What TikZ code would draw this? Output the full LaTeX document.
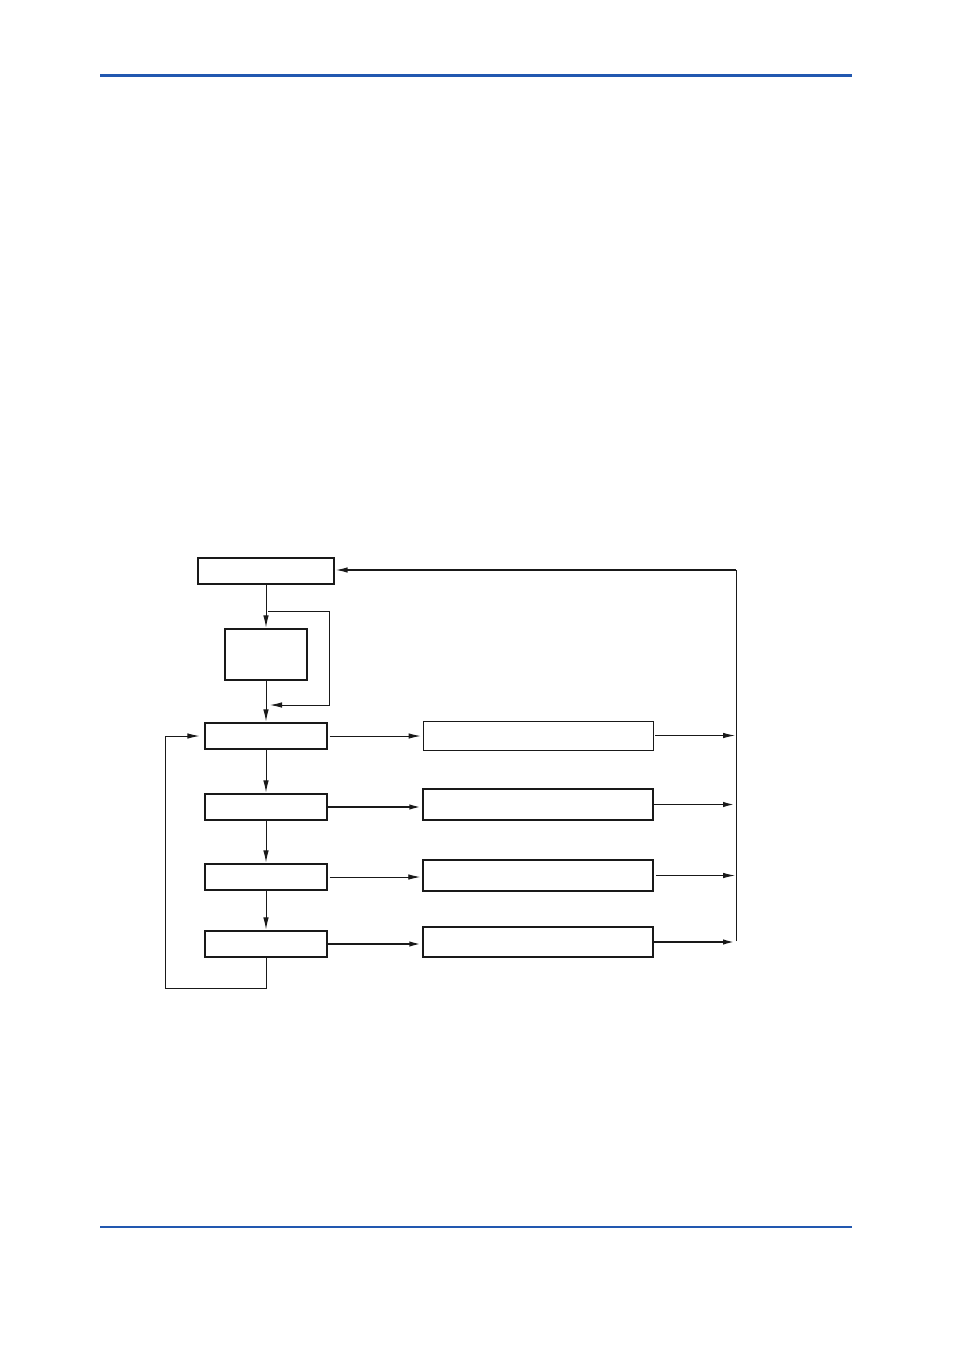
\documentclass[tikz,border=0pt]{standalone}
\usetikzlibrary{arrows.meta}
\definecolor{pageblue}{RGB}{34,88,176}
\begin{document}
\begin{tikzpicture}[x=1pt,y=-1pt,shorten >=1pt,>={Latex[length=12pt,width=5.5pt]}]
        \tikzstyle{blk}=[draw=black!90,line width=1.2pt,inner sep=0pt,minimum height=26pt,minimum width=122pt]
        \tikzstyle{wide}=[blk,minimum width=230pt]
        \tikzstyle{flow}=[draw=black!90,line width=0.9pt]
        \tikzstyle{bold}=[draw=black!90,line width=1.9pt]
        \useasboundingbox (0,0) rectangle (954,1350);
        % page rules
        \draw[pageblue,line width=3pt] (100,75) -- (853,75);
        \draw[pageblue,line width=2.2pt] (100,1227) -- (853,1227);
       \begin{scope}
         % left column
         \node [blk,minimum width=136pt] (top) at (266,571) {};
         \node [blk,minimum width=82pt,minimum height=51pt] (mid) at (266,654.5) {};
         \node [blk] (s1) at (266,736) {};
         \node [blk] (s2) at (266,807) {};
         \node [blk] (s3) at (266,877) {};
         \node [blk] (s4) at (266,944) {};
         % right column
         \node [wide,minimum height=29pt,line width=0.9pt] (r1) at (538,735.5) {};
         \node [wide,minimum height=31pt,line width=1.5pt] (r2) at (538,804.5) {};
         \node [wide,minimum height=31pt,line width=1.5pt] (r3) at (538,875.5) {};
         \node [wide,minimum height=30pt,line width=1.5pt] (r4) at (538,942) {};
         % helper points
         \coordinate (bustop) at (736,570);
         \coordinate (busbot) at (736,941);
         \coordinate (bp1) at (268,611);
         \coordinate (bp2) at (329,705);
         \coordinate (bp3) at (269,705);
         \coordinate (lp) at (165,988);
         % down arrows
         \path[flow,->] (top) -- (mid);
         \path[flow,->] (mid) -- (s1);
         \path[flow,->] (s1) -- (s2);
         \path[flow,->] (s2) -- (s3);
         \path[flow,->] (s3) -- (s4);
         % bypass
         \path[flow,->] (bp1) -| (bp2) -- (bp3);
         % loop back
         \path[flow,->,shorten >=5pt] (s4.south) |- (lp) |- (s1.west);
         % outputs
         \path[flow,->,shorten >=2pt] ([xshift=2pt]s1.east) -- (s1.east -| r1.west);
         \path[bold,->,shorten >=1pt] (s2.east) -- (s2.east -| r2.west);
         \path[flow,->,shorten >=2pt] ([xshift=2pt]s3.east) -- (s3.east -| r3.west);
         \path[bold,->,shorten >=1pt] (s4.east) -- (s4.east -| r4.west);
         \path[flow,->,shorten >=1pt] ([xshift=2pt]r1.east) -- (r1.east -| bustop);
         \path[bold,->,shorten >=1pt] (r2.east) -- (r2.east -| bustop);
         \path[flow,->,shorten >=1pt] ([xshift=2pt]r3.east) -- (r3.east -| bustop);
         \path[bold,->,shorten >=1pt] (r4.east) -- (r4.east -| bustop);
         % return bus
         \path[flow,shorten >=0pt] (busbot) -- (bustop);
         \path[bold,->,line width=1.4pt] (bustop) -- (bustop -| top.east);
        \end{scope}
      \end{tikzpicture}
\end{document}
